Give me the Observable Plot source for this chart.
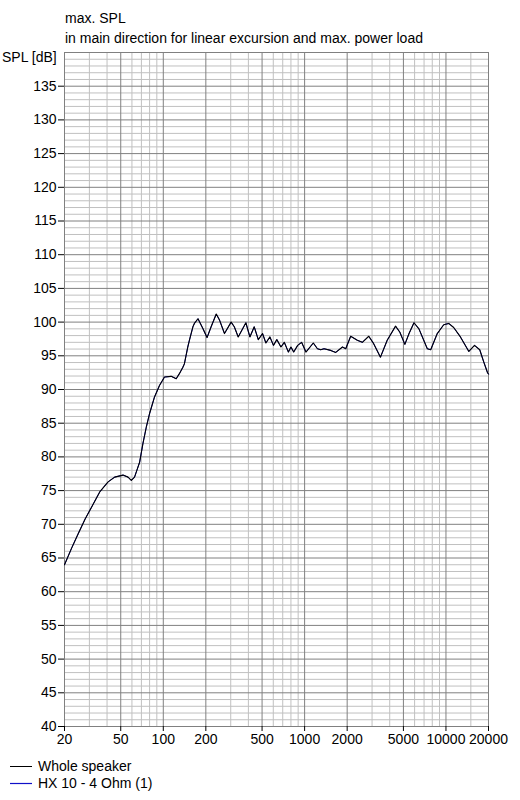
<!DOCTYPE html>
<html>
<head>
<meta charset="utf-8">
<script src="https://cdn.jsdelivr.net/npm/d3@7"></script>
<script src="https://cdn.jsdelivr.net/npm/@observablehq/plot@0.6"></script>
<style>
  html, body { margin: 0; padding: 0; background: #fff; }
  #wrap { position: relative; width: 520px; height: 800px; font-family: "Liberation Sans", Arial, sans-serif; color: #000; }
  .t { position: absolute; z-index: 2; font-size: 14px; white-space: nowrap; line-height: 1; }
  #sw { position: absolute; z-index: 2; left: 0; top: 755px; }
</style>
</head>
<body>
<div id="wrap">
  <div id="chart"></div>
  <div class="t" style="left:65px; top:11px;">max. SPL</div>
  <div class="t" style="left:65px; top:31px;">in main direction for linear excursion and max. power load</div>
  <div class="t" style="left:2px; top:50px;">SPL [dB]</div>
  <svg id="sw" width="36" height="40">
    <line x1="10" x2="32" y1="11.5" y2="11.5" stroke="#000" stroke-width="1"/>
    <line x1="10" x2="32" y1="28.5" y2="28.5" stroke="#1010c8" stroke-width="1.2"/>
  </svg>
  <div class="t" style="left:38px; top:759px;">Whole speaker</div>
  <div class="t" style="left:38px; top:776px;">HX 10 - 4 Ohm (1)</div>
</div>
<script>
// Frequencies (Hz) and SPL (dB)
const freq = [20, 22.5, 25, 28, 31, 35.5, 40.7, 45.3, 51.9, 56.3, 59.4, 62.6, 65, 68, 71.8, 75.8, 79.9, 86.7, 94, 102,
  113.8, 123.4, 130, 137.6, 141, 149, 153, 162, 166, 176, 191, 204, 218, 237, 250, 271, 302, 318, 339, 384,
  410, 440, 470, 504, 532, 568, 602, 636, 680, 718, 768, 800, 837, 893, 952, 1022, 1152, 1232, 1300, 1372,
  1530, 1660, 1852, 1954, 2118, 2360, 2560, 2844, 3080, 3440, 3840, 4400, 4720, 5120, 5480, 5940, 6440, 7380, 7800, 8680,
  9640, 10460, 11340, 12660, 14520, 15920, 17340, 18500, 19720, 20000];
const splWhole = [64.0, 66.5, 68.6, 70.8, 72.5, 74.8, 76.3, 77.0, 77.3, 77.0, 76.5, 77.0, 78.0, 79.2, 82.0, 84.4, 86.4, 88.9, 90.6, 91.85,
  91.95, 91.6, 92.35, 93.3, 93.8, 96.3, 97.3, 99.3, 99.8, 100.5, 99.0, 97.7, 99.3, 101.2, 100.3, 98.3, 100.0, 99.3, 97.8, 99.9,
  97.8, 99.3, 97.4, 98.3, 96.9, 97.8, 96.55, 97.4, 96.3, 97.0, 95.55, 96.3, 95.55, 96.55, 97.0, 95.55, 96.9, 96.05, 95.9, 96.05,
  95.8, 95.5, 96.3, 96.05, 97.9, 97.3, 97.0, 97.9, 96.8, 94.8, 97.3, 99.4, 98.5, 96.7, 98.3, 99.9, 99.0, 96.05, 95.9, 98.3,
  99.6, 99.8, 99.2, 97.8, 95.65, 96.55, 95.9, 94.1, 92.45, 92.3];
// The HX 10 driver curve lies directly under the whole-speaker curve
const splHX10 = splWhole.slice();

// Axis ticks and grid
const xTicks = [20, 50, 100, 200, 500, 1000, 2000, 5000, 10000, 20000];
const xMajorGrid = [50, 100, 200, 500, 1000, 2000, 5000, 10000];
const xMinorGrid = [30, 40, 60, 70, 80, 90, 300, 400, 600, 700, 800, 900, 3000, 4000, 6000, 7000, 8000, 9000, 15000];
const yTicks = [40, 45, 50, 55, 60, 65, 70, 75, 80, 85, 90, 95, 100, 105, 110, 115, 120, 125, 130, 135];
const yMinorGrid = d3.range(41, 140).filter(v => v % 5 !== 0);

const whole = freq.map((f, i) => ({f, db: splWhole[i]}));
const hx10 = freq.map((f, i) => ({f, db: splHX10[i]}));

const chart = Plot.plot({
  width: 520,
  height: 800,
  marginLeft: 64,
  marginRight: 32,
  marginTop: 52,
  marginBottom: 74,
  style: {fontFamily: '"Liberation Sans", Arial, sans-serif', fontSize: "14px", color: "#000", background: "#fff"},
  x: {type: "log", domain: [20, 20000], axis: null},
  y: {domain: [40, 140]},
  marks: [
    Plot.ruleY(yMinorGrid, {stroke: "#c0c0c0", strokeOpacity: 1}),
    Plot.ruleX(xMinorGrid, {stroke: "#c0c0c0", strokeOpacity: 1}),
    Plot.ruleY(yTicks.filter(v => v > 40), {stroke: "#808080", strokeOpacity: 1}),
    Plot.ruleX(xMajorGrid, {stroke: "#808080", strokeOpacity: 1}),
    Plot.frame({stroke: "#808080"}),
    Plot.axisY(yTicks, {tickSize: 6, tickPadding: 2, label: null, tickFormat: d => String(d), fontSize: 14}),
    // x-axis: tick marks below the frame and labels
    Plot.ruleX(xTicks, {x: d => d, y1: 40, y2: 40, insetBottom: -5, stroke: "#000"}),
    Plot.text(xTicks, {x: d => d, frameAnchor: "bottom", dy: 17, text: d => String(d), fontSize: 14, fill: "#000"}),
    Plot.line(hx10, {x: "f", y: "db", stroke: "#1010c8", strokeWidth: 1}),
    Plot.line(whole, {x: "f", y: "db", stroke: "#000", strokeWidth: 1.1})
  ]
});
document.getElementById("chart").appendChild(chart);
</script>
</body>
</html>
